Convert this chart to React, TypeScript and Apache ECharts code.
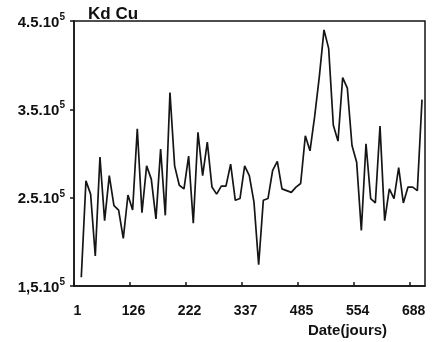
import { useEffect, useRef } from "react";
import * as echarts from "echarts";

// Kd Cu series, one value per sampling date (in units of 1e5)
const kdCu = [
  1.6, 2.69, 2.54, 1.84, 2.96, 2.24, 2.75, 2.41, 2.36, 2.04,
  2.53, 2.36, 3.28, 2.33, 2.86, 2.71, 2.26, 3.05, 2.3, 3.69,
  2.86, 2.64, 2.6, 2.97, 2.21, 3.24, 2.75, 3.13, 2.62, 2.54,
  2.63, 2.63, 2.88, 2.47, 2.49, 2.86, 2.75, 2.45, 1.74, 2.47,
  2.49, 2.81, 2.91, 2.6, 2.58, 2.56, 2.62, 2.66, 3.2, 3.03,
  3.42, 3.87, 4.4, 4.19, 3.32, 3.14, 3.86, 3.74, 3.09, 2.9,
  2.13, 3.11, 2.49, 2.44, 3.31, 2.24, 2.6, 2.49, 2.84, 2.44,
  2.62, 2.62, 2.58, 3.61,
];

// day labels, one every 12 samples
const dayLabels = ["1", "126", "222", "337", "485", "554", "688"];
const SAMPLES_PER_TICK = 12;
const FIRST_SAMPLE_POS = 1.56;

// y tick labels (mantissa part; exponent drawn as superscript)
const yTickValues = [150000, 250000, 350000, 450000];
const yTickLabels = ["1,5.10", "2.5.10", "3.5.10", "4.5.10"];
const yExponent = "5";

export default function App() {
  const ref = useRef<HTMLDivElement>(null);

  useEffect(() => {
    if (!ref.current) return;
    const chart = echarts.init(ref.current, null, { renderer: "svg" });
    const data = kdCu.map((v, i) => [i + FIRST_SAMPLE_POS, v * 1e5]);
    const font = "'Liberation Sans', Arial, sans-serif";

    chart.setOption({
      animation: false,
      grid: {
        left: 74,
        top: 21,
        right: 11,
        bottom: 54,
        show: true,
        borderColor: "#151515",
        borderWidth: 1.5,
      },
      xAxis: {
        type: "value",
        min: 0,
        max: 75.2,
        interval: SAMPLES_PER_TICK,
        name: "Date(jours)",
        nameLocation: "middle",
        nameGap: 36,
        nameTextStyle: {
          color: "#111",
          fontFamily: font,
          fontWeight: "bold",
          fontSize: 15,
          padding: [0, 0, 0, 196],
        },
        axisLine: { lineStyle: { color: "#151515", width: 1.5 } },
        axisTick: { inside: true, length: 4, lineStyle: { color: "#151515", width: 1.5 } },
        splitLine: { show: false },
        axisLabel: {
          margin: 17,
          showMaxLabel: false,
          color: "#111",
          fontFamily: font,
          fontWeight: "bold",
          fontSize: 14,
          padding: [0, 0, 0, 7],
          formatter: (v: number) => {
            const k = Math.round(v / SAMPLES_PER_TICK);
            if (Math.abs(v - k * SAMPLES_PER_TICK) > 1e-6) return "";
            return dayLabels[k] ?? "";
          },
        },
      },
      yAxis: {
        type: "value",
        min: 150000,
        max: 450000,
        interval: 100000,
        axisLine: { show: true, lineStyle: { color: "#151515", width: 1.5 } },
        axisTick: { show: true, length: 4, lineStyle: { color: "#151515", width: 1.5 } },
        splitLine: { show: false },
        axisLabel: {
          margin: 9,
          color: "#111",
          fontFamily: font,
          formatter: (v: number) => {
            const idx = yTickValues.findIndex((t) => Math.abs(t - v) < 1);
            if (idx < 0) return "";
            return `{m|${yTickLabels[idx]}}{e|${yExponent}}`;
          },
          rich: {
            m: { fontFamily: font, fontWeight: "bold", fontSize: 15, color: "#111" },
            e: {
              fontFamily: font,
              fontWeight: "bold",
              fontSize: 10,
              color: "#111",
              verticalAlign: "top",
              padding: [0, 0, 9, 0],
            },
          },
        },
      },
      graphic: [
        {
          type: "text",
          left: 88,
          top: 5,
          style: {
            text: "Kd Cu",
            fill: "#111",
            font: `bold 17px ${font}`,
          },
        },
      ],
      series: [
        {
          type: "line",
          data,
          showSymbol: false,
          lineStyle: { color: "#151515", width: 1.7 },
        },
      ],
    });

    return () => chart.dispose();
  }, []);

  return (
    <div
      ref={ref}
      style={{ position: "fixed", left: 0, top: 0, width: 436, height: 342 }}
    />
  );
}
